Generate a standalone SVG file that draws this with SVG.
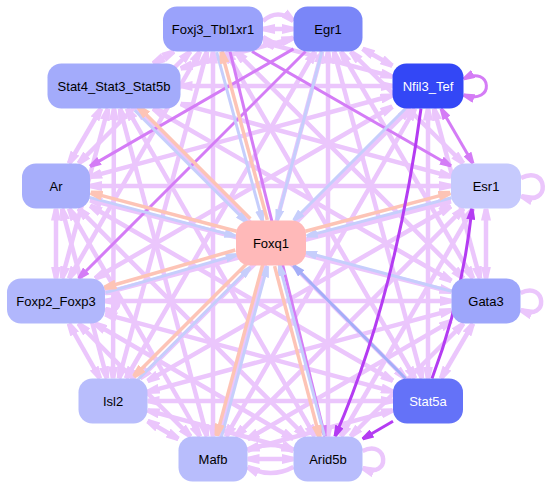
<svg xmlns="http://www.w3.org/2000/svg" width="551" height="489" viewBox="0 0 551 489">
<style>
.lp{stroke:#ebc6fc;stroke-width:4.5;fill:none;marker-start:url(#aLP);marker-end:url(#aLP)}
.lp1{stroke:#ebc6fc;stroke-width:4.5;fill:none;marker-end:url(#aLP)}
.mp{stroke:#d47cf6;stroke-width:3;fill:none;marker-end:url(#aMP)}
.mp2{stroke:#d47cf6;stroke-width:3;fill:none;marker-start:url(#aMP);marker-end:url(#aMP)}
.bp{stroke:#b43cf2;stroke-width:3;fill:none;marker-end:url(#aBP)}
.lb{stroke:#c6cefc;stroke-width:3;fill:none;marker-end:url(#aLB)}
.sb{stroke:#a4aef8;stroke-width:3;fill:none;marker-end:url(#aSB)}
.sa{stroke:#fdc4b6;stroke-width:3.5;fill:none;marker-end:url(#aSA)}
.node rect{stroke:none}
.node text{font-family:"Liberation Sans",Arial,sans-serif;font-size:13px;text-anchor:middle;fill:#000}
.node text.w{fill:#fff}
</style>
<defs>
<marker id="aLP" viewBox="0 0 12 10" refX="12" refY="5" markerWidth="12" markerHeight="10" markerUnits="userSpaceOnUse" orient="auto-start-reverse"><path d="M0,0L12,2.8L12,7.2L0,10z" fill="#ebc6fc"/></marker>
<marker id="aMP" viewBox="0 0 11 9" refX="11" refY="4.5" markerWidth="11" markerHeight="9" markerUnits="userSpaceOnUse" orient="auto-start-reverse"><path d="M0,0L11,3L11,6L0,9z" fill="#d47cf6"/></marker>
<marker id="aBP" viewBox="0 0 11 9" refX="11" refY="4.5" markerWidth="11" markerHeight="9" markerUnits="userSpaceOnUse" orient="auto-start-reverse"><path d="M0,0L11,3L11,6L0,9z" fill="#b43cf2"/></marker>
<marker id="aLB" viewBox="0 0 11 9" refX="11" refY="4.5" markerWidth="11" markerHeight="9" markerUnits="userSpaceOnUse" orient="auto-start-reverse"><path d="M0,0L11,3L11,6L0,9z" fill="#c6cefc"/></marker>
<marker id="aSB" viewBox="0 0 11 9" refX="11" refY="4.5" markerWidth="11" markerHeight="9" markerUnits="userSpaceOnUse" orient="auto-start-reverse"><path d="M0,0L11,3L11,6L0,9z" fill="#a4aef8"/></marker>
<marker id="aSA" viewBox="0 0 12 10" refX="12" refY="5" markerWidth="12" markerHeight="10" markerUnits="userSpaceOnUse" orient="auto-start-reverse"><path d="M0,0L12,2.8L12,7.2L0,10z" fill="#fdc4b6"/></marker>
</defs>
<g id="connectors">
<line class="lp" x1="263" y1="42.3" x2="392.5" y2="76.6"/>
<line class="lp" x1="174" y1="51.5" x2="153" y2="63.5"/>
<line class="lp" x1="190.5" y1="51.5" x2="78.5" y2="163.5"/>
<line class="lp" x1="235.6" y1="51.5" x2="463.4" y2="278.5"/>
<line class="lp" x1="200" y1="51.5" x2="69" y2="278.5"/>
<line class="lp" x1="207" y1="51.5" x2="119" y2="378.5"/>
<line class="lp" x1="226" y1="51.5" x2="415" y2="378.5"/>
<line class="lp" x1="213" y1="51.5" x2="213" y2="436.5"/>
<line class="lp" x1="328" y1="51.5" x2="328" y2="436.5"/>
<line class="lp" x1="362.5" y1="48.7" x2="392.5" y2="65.8"/>
<line class="lp" x1="293.5" y1="38.2" x2="180.5" y2="68.3"/>
<line class="lp" x1="350.6" y1="51.5" x2="463.4" y2="163.5"/>
<line class="lp" x1="341" y1="51.5" x2="473" y2="278.5"/>
<line class="lp" x1="315" y1="51.5" x2="126" y2="378.5"/>
<line class="lp" x1="334" y1="51.5" x2="422" y2="378.5"/>
<line class="lp" x1="322" y1="51.5" x2="219" y2="436.5"/>
<line class="lp" x1="392.5" y1="86" x2="180.5" y2="86"/>
<line class="lp" x1="392.5" y1="95.5" x2="90" y2="176.9"/>
<line class="lp" x1="392.5" y1="106.5" x2="95" y2="278.5"/>
<line class="lp" x1="434" y1="108.5" x2="480" y2="278.5"/>
<line class="lp" x1="410" y1="108.5" x2="140" y2="378.5"/>
<line class="lp" x1="428" y1="108.5" x2="428" y2="378.5"/>
<line class="lp" x1="415" y1="108.5" x2="226" y2="436.5"/>
<line class="lp" x1="101" y1="108.5" x2="69" y2="163.5"/>
<line class="lp" x1="180.5" y1="103.9" x2="451" y2="176.6"/>
<line class="lp" x1="108" y1="108.5" x2="62" y2="278.5"/>
<line class="lp" x1="153" y1="108.5" x2="451.5" y2="281"/>
<line class="lp" x1="114" y1="108.5" x2="113" y2="378.5"/>
<line class="lp" x1="136.4" y1="108.5" x2="405.6" y2="378.5"/>
<line class="lp" x1="120" y1="108.5" x2="207" y2="436.5"/>
<line class="lp" x1="127" y1="108.5" x2="315" y2="436.5"/>
<line class="lp" x1="90" y1="186" x2="451" y2="186"/>
<line class="lp" x1="56" y1="208.5" x2="56" y2="278.5"/>
<line class="lp" x1="90" y1="200" x2="451.5" y2="291.8"/>
<line class="lp" x1="62" y1="208.5" x2="107" y2="378.5"/>
<line class="lp" x1="90" y1="205.7" x2="393" y2="380.8"/>
<line class="lp" x1="69" y1="208.5" x2="200" y2="436.5"/>
<line class="lp" x1="78.4" y1="208.5" x2="305.6" y2="436.5"/>
<line class="lp" x1="451" y1="201" x2="105" y2="293"/>
<line class="lp" x1="486" y1="208.5" x2="486" y2="278.5"/>
<line class="lp" x1="451" y1="206.2" x2="147.5" y2="381.1"/>
<line class="lp" x1="463.5" y1="208.5" x2="235.5" y2="436.5"/>
<line class="lp" x1="473" y1="208.5" x2="341" y2="436.5"/>
<line class="lp" x1="105" y1="301" x2="451.5" y2="301"/>
<line class="lp" x1="68.8" y1="323.5" x2="100" y2="378.5"/>
<line class="lp" x1="105" y1="314.2" x2="393" y2="391.6"/>
<line class="lp" x1="78.4" y1="323.5" x2="190.6" y2="436.5"/>
<line class="lp" x1="94.7" y1="323.5" x2="293.5" y2="438.9"/>
<line class="lp" x1="451.5" y1="310.2" x2="147.5" y2="391.8"/>
<line class="lp" x1="473" y1="323.5" x2="441" y2="378.5"/>
<line class="lp" x1="451.5" y1="320.9" x2="247.5" y2="439.1"/>
<line class="lp" x1="463.5" y1="323.5" x2="350.5" y2="436.5"/>
<line class="lp" x1="147.5" y1="401" x2="393" y2="401"/>
<line class="lp" x1="147.5" y1="421" x2="178.5" y2="439"/>
<line class="lp" x1="147.5" y1="410.3" x2="293.5" y2="449.7"/>
<line class="lp" x1="393" y1="410.3" x2="247.5" y2="449.7"/>
<line class="lp" x1="263" y1="29" x2="293.5" y2="29"/>
<path class="lp1" d="M263,21 Q278,8 293.5,21"/>
<path class="lp1" d="M293.5,37 Q278,50 263,37"/>
<line class="lp" x1="247.5" y1="459" x2="293.5" y2="459"/>
<path class="lp1" d="M247.5,451 Q271,439 293.5,451"/>
<path class="lp1" d="M293.5,467 Q271,479 247.5,467"/>
<path class="lp1" d="M521,178 C548,164 552,208 521,196"/>
<path class="lp1" d="M520.5,293 C546,280 550,322 520.5,310"/>
<path class="lp1" d="M362.5,451 C388,438 392,480 362.5,468"/>
<path class="lp1" d="M105,293 C122,285 124,317 105,309"/>
<path class="mp2" d="M463.5,79 C492,64 496,106 463.5,95"/>
<line class="mp" x1="252" y1="51.5" x2="451" y2="166"/>
<line class="mp" x1="293.5" y1="48.9" x2="90" y2="166.4"/>
<line class="mp" x1="305.5" y1="51.5" x2="78.5" y2="278.5"/>
<line class="mp2" x1="441" y1="108.5" x2="473" y2="163.5"/>
<line class="mp" x1="230" y1="51.5" x2="325" y2="436.5"/>
<line class="lb" x1="216.7" y1="52.2" x2="262.5" y2="221.2"/>
<line class="sa" x1="267.3" y1="219.9" x2="221.5" y2="51.5"/>
<line class="lb" x1="134.7" y1="110.3" x2="246.7" y2="222.3"/>
<line class="sa" x1="250.3" y1="218.7" x2="138.3" y2="106.7"/>
<line class="lb" x1="89.4" y1="197.4" x2="235.4" y2="236.1"/>
<line class="sa" x1="236.6" y1="231.3" x2="90.6" y2="192.6"/>
<line class="lb" x1="451.6" y1="197.7" x2="306.6" y2="236.1"/>
<line class="sa" x1="305.4" y1="231.3" x2="450.4" y2="192.9"/>
<line class="lb" x1="105.7" y1="292.6" x2="236.7" y2="254.8"/>
<line class="sa" x1="235.3" y1="250" x2="104.3" y2="287.8"/>
<line class="lb" x1="137.3" y1="380.3" x2="250.3" y2="267.3"/>
<line class="sa" x1="246.7" y1="263.7" x2="133.7" y2="376.7"/>
<line class="lb" x1="221.4" y1="437.1" x2="267.4" y2="266.1"/>
<line class="sa" x1="262.6" y1="264.9" x2="216.6" y2="435.9"/>
<line class="lb" x1="324.4" y1="435.9" x2="279.4" y2="264.9"/>
<line class="sa" x1="274.6" y1="266.1" x2="319.6" y2="437.1"/>
<line class="lb" x1="322" y1="51.5" x2="277" y2="220.5"/>
<line class="lb" x1="405.5" y1="108.5" x2="293.5" y2="220.5"/>
<line class="lb" x1="451.5" y1="291.3" x2="306" y2="252.4"/>
<line class="sb" x1="405.5" y1="378.5" x2="293.5" y2="265.5"/>
<path class="bp" d="M421,108.5 Q395,300 335,436.5"/>
<path class="bp" d="M432,378.5 Q462,300 472,208.5"/>
<line class="bp" x1="393" y1="421.3" x2="362.5" y2="439"/>
</g>
<g id="Foxj3_Tbl1xr1" class="node"><rect x="163" y="6.5" width="100" height="45" rx="14" fill="#9aa2fb"/><text x="213" y="33.5">Foxj3_Tbl1xr1</text></g>
<g id="Egr1" class="node"><rect x="293.5" y="6.5" width="69" height="45" rx="14" fill="#7a86f8"/><text x="328" y="33.5">Egr1</text></g>
<g id="Nfil3_Tef" class="node"><rect x="392.5" y="63.5" width="71" height="45" rx="14" fill="#3347f6"/><text class="w" x="428" y="90.5">Nfil3_Tef</text></g>
<g id="Stat4_Stat3_Stat5b" class="node"><rect x="47.5" y="63.5" width="133" height="45" rx="14" fill="#a3abfb"/><text x="114" y="90.5">Stat4_Stat3_Stat5b</text></g>
<g id="Ar" class="node"><rect x="22" y="163.5" width="68" height="45" rx="14" fill="#a7aefb"/><text x="56" y="190.5">Ar</text></g>
<g id="Esr1" class="node"><rect x="451" y="163.5" width="70" height="45" rx="14" fill="#c6cafd"/><text x="486" y="190.5">Esr1</text></g>
<g id="Foxq1" class="node"><rect x="236" y="220.5" width="70" height="45" rx="14" fill="#ffb9b9"/><text x="271" y="247.5">Foxq1</text></g>
<g id="Foxp2_Foxp3" class="node"><rect x="7" y="278.5" width="98" height="45" rx="14" fill="#b1b7fc"/><text x="56" y="305.5">Foxp2_Foxp3</text></g>
<g id="Gata3" class="node"><rect x="451.5" y="278.5" width="69" height="45" rx="14" fill="#9da6fb"/><text x="486" y="305.5">Gata3</text></g>
<g id="Isl2" class="node"><rect x="78.5" y="378.5" width="69" height="45" rx="14" fill="#b8bdfc"/><text x="113" y="405.5">Isl2</text></g>
<g id="Stat5a" class="node"><rect x="393" y="378.5" width="70" height="45" rx="14" fill="#6472f8"/><text class="w" x="428" y="405.5">Stat5a</text></g>
<g id="Mafb" class="node"><rect x="178.5" y="436.5" width="69" height="45" rx="14" fill="#b8bdfc"/><text x="213" y="463.5">Mafb</text></g>
<g id="Arid5b" class="node"><rect x="293.5" y="436.5" width="69" height="45" rx="14" fill="#b8bdfc"/><text x="328" y="463.5">Arid5b</text></g>
</svg>
